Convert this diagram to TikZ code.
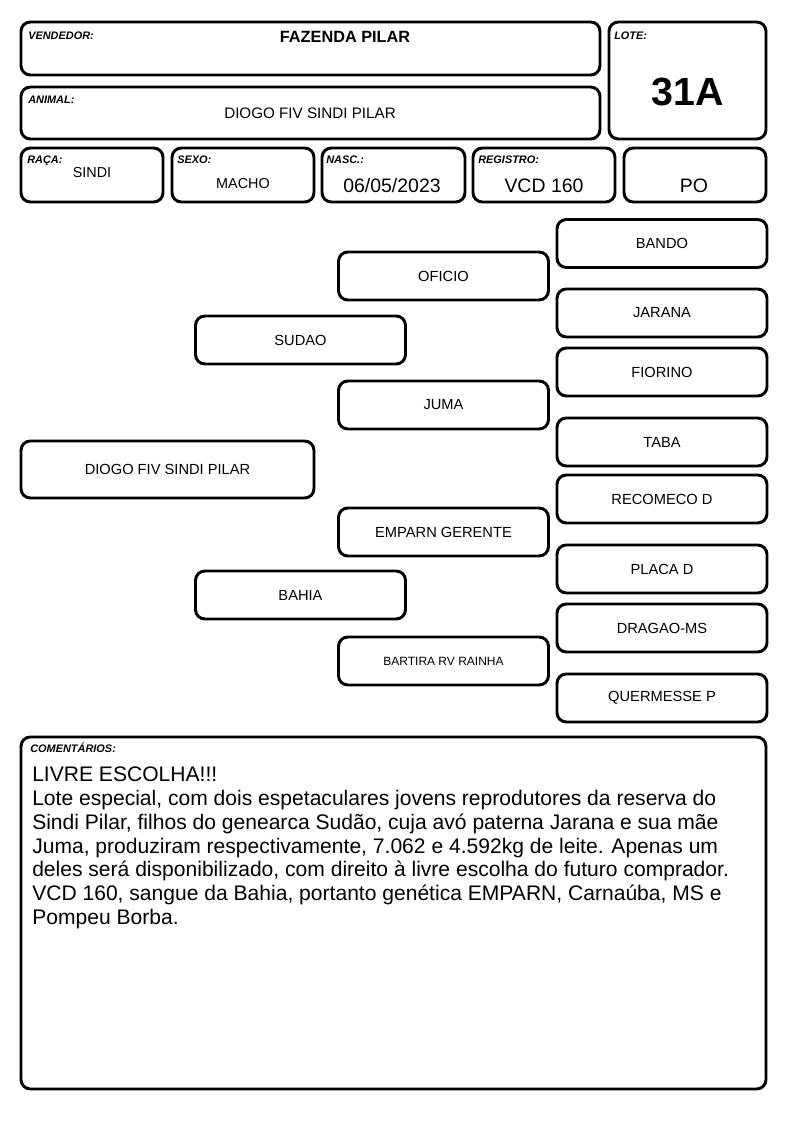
\documentclass[tikz,border=0pt]{standalone}
\usepackage{fontspec}
\setmainfont{Liberation Sans}
\usepackage{tikz}
\usetikzlibrary{positioning}

\begin{document}
\begin{tikzpicture}[x=0.75pt, y=-0.75pt,
  card/.style 2 args={draw, line width=2.2pt, rounded corners=7pt,
              minimum width=#1*0.75pt, minimum height=#2*0.75pt,
              inner sep=0pt},
  anc/.style={card={210}{48}, font=\fontsize{11}{13}\selectfont},
  lab/.style={anchor=base west, inner sep=0pt,
              font=\fontsize{8.2}{9}\selectfont\bfseries\itshape},
  val/.style={anchor=base, inner sep=0pt, font=\fontsize{10.8}{12}\selectfont},
  big/.style={anchor=base, inner sep=0pt, font=\fontsize{14.6}{16}\selectfont}]
\useasboundingbox (0,0) rectangle (794,1123);

% cabecalho
\node[card={579}{53}] (vend) at (310.5,48.5) {};
\node[card={579}{52}] (anim) at (310.5,113) {};
\node[card={157}{117}] (lote) at (687.5,80.5) {};
\node[lab] (vendlab) at (28,40) {VENDEDOR:};
\node[lab] (animlab) at (28,104) {ANIMAL:};
\node[lab] (lotelab) at (614,40) {LOTE:};
\node[anchor=base, inner sep=0pt, font=\fontsize{12.2}{14}\selectfont\bfseries]
  (vendval) at (345,43) {FAZENDA PILAR};
\node[anchor=base, inner sep=0pt, font=\fontsize{11.4}{14}\selectfont]
  (animval) at (310,119) {DIOGO FIV SINDI PILAR};
\node[anchor=base, inner sep=0pt, font=\fontsize{29.5}{34}\selectfont\bfseries]
  (loteval) at (688,106) {31A};

% dados
\node[card={142}{54}] (raca) at (92,175) {};
\node[card={142}{54}] (sexo) at (243,175) {};
\node[card={143}{54}] (nasc) at (393.5,175) {};
\node[card={142}{54}] (reg) at (544,175) {};
\node[card={142}{54}] (po) at (695,175) {};
\node[lab] (racalab) at (27,164) {RAÇA:};
\node[lab] (sexolab) at (177,164) {SEXO:};
\node[lab] (nasclab) at (326,164) {NASC.:};
\node[lab] (reglab) at (478,164) {REGISTRO:};
\node[val] (racaval) at (92,178) {SINDI};
\node[val] (sexoval) at (243,189) {MACHO};
\node[big] (nascval) at (392,193) {06/05/2023};
\node[big] (regval) at (544,193) {VCD 160};
\node[big] (poval) at (694,193) {PO};

% genealogia
\node[card={293}{57}, font=\fontsize{11}{13}\selectfont] (animal) at (167.5,469.5) {DIOGO FIV SINDI PILAR};
\node[anc] (pai) at (300.5,340) {SUDAO};
\node[anc] (mae) at (300.5,595) {BAHIA};
\node[anc] (avop) at (443.5,276) {OFICIO};
\node[anc] (avap) at (443.5,405) {JUMA};
\node[anc] (avom) at (443.5,532) {EMPARN GERENTE};
\node[anc, font=\fontsize{9}{11}\selectfont] (avam) at (443.5,661) {BARTIRA RV RAINHA};
\node[anc] (b1) at (662,243.5) {BANDO};
\node[anc] (b2) at (662,313) {JARANA};
\node[anc] (b3) at (662,372) {FIORINO};
\node[anc] (b4) at (662,442) {TABA};
\node[anc] (b5) at (662,499) {RECOMECO D};
\node[anc] (b6) at (662,569) {PLACA D};
\node[anc] (b7) at (662,628) {DRAGAO-MS};
\node[anc] (b8) at (662,698) {QUERMESSE P};

% comentarios
\node[card={745}{352}] (coment) at (393.5,913) {};
\node[lab] (comentlab) at (30,752) {COMENTÁRIOS:};
\node[anchor=north west, inner sep=0pt, align=left,
      font=\fontsize{15.8}{17.8}\selectfont] (comentval) at (32,767)
  {LIVRE ESCOLHA!!!\\
   Lote especial, com dois espetaculares jovens reprodutores da reserva do\\
   Sindi Pilar, filhos do genearca Sudão, cuja avó paterna Jarana e sua mãe\\
   Juma, produziram respectivamente, 7.062 e 4.592kg de leite. Apenas um\\
   deles será disponibilizado, com direito à livre escolha do futuro comprador.\\
   VCD 160, sangue da Bahia, portanto genética EMPARN, Carnaúba, MS e\\
   Pompeu Borba.};
\end{tikzpicture}
\end{document}
